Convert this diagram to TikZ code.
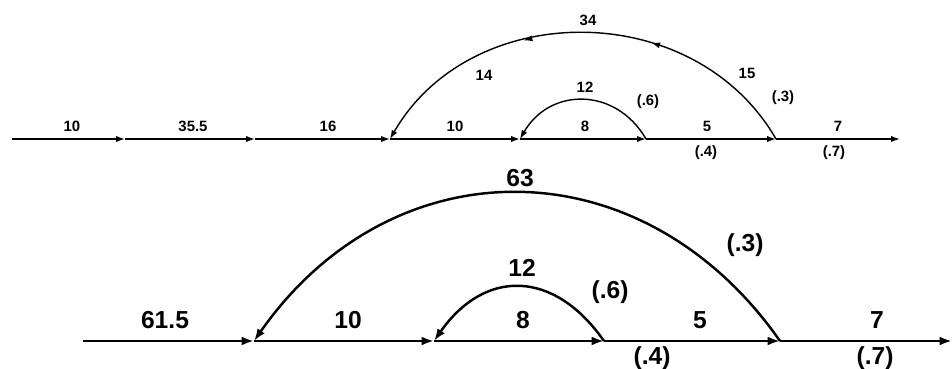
\documentclass[tikz,border=0pt]{standalone}
\usepackage{fontspec}
\setsansfont{Liberation Sans}
\usetikzlibrary{arrows.meta,decorations.markings}
\begin{document}
\begin{tikzpicture}[x=0.02cm,y=0.02cm,
    flow/.style={line width=0.8pt,-{Latex[length=5pt,width=3.5pt]}},
    bigflow/.style={line width=1.4pt,-{Latex[length=7pt,width=5pt]}},
    lab/.style={inner sep=0pt,font=\sffamily\bfseries\fontsize{8.5}{10}\selectfont},
    biglab/.style={inner sep=0pt,font=\sffamily\bfseries\fontsize{14}{16}\selectfont},
    midarrows/.style={postaction={decorate},decoration={markings,
        mark=at position 0.35 with {\arrow{Latex[length=5pt,width=3.5pt]}},
        mark=at position 0.63 with {\arrow{Latex[length=5pt,width=3.5pt]}}}}]
    \useasboundingbox (0,0) rectangle (952,368);

    % upper line
    \coordinate (t0) at (12,229);
    \coordinate (t1) at (125,229);
    \coordinate (t2) at (255,229);
    \coordinate (t3) at (390,229);
    \coordinate (t4) at (520,229);
    \coordinate (t5) at (646,229);
    \coordinate (t6) at (776,229);
    \coordinate (t7) at (900,229);

    \draw[flow] (t0) -- (t1);
    \draw[flow] (t1) -- (t2);
    \draw[flow] (t2) -- (t3);
    \draw[flow] (t3) -- (t4);
    \draw[flow] (t4) -- (t5);
    \draw[flow] (t5) -- (t6);
    \draw[flow] (t6) -- (t7);

    \draw[flow,midarrows] (t6) .. controls +(120:163) and +(60:163) .. (t3);
    \draw[flow] (t5) .. controls +(120:60) and +(60:60) .. (t4);

    \node[lab] (u1) at (72,242) {10};
    \node[lab] (u2) at (193,242) {35.5};
    \node[lab] (u3) at (328,242) {16};
    \node[lab] (u4) at (455,242) {10};
    \node[lab] (u5) at (585,242) {8};
    \node[lab] (u6) at (707,242) {5};
    \node[lab] (u7) at (838,242) {7};
    \node[lab] (u8) at (706,215) {(.4)};
    \node[lab] (u9) at (834,215) {(.7)};
    \node[lab] (u10) at (585,281) {12};
    \node[lab] (u11) at (648,266) {(.6)};
    \node[lab] (u12) at (484,293) {14};
    \node[lab] (u13) at (588,348) {34};
    \node[lab] (u14) at (747,295) {15};
    \node[lab] (u15) at (783,270) {(.3)};

    % lower line
    \coordinate (b0) at (83,27);
    \coordinate (b1) at (254,27);
    \coordinate (b2) at (434,27);
    \coordinate (b3) at (604,27);
    \coordinate (b4) at (780,27);
    \coordinate (b5) at (952,27);

    \draw[bigflow] (b0) -- (b1);
    \draw[bigflow] (b1) -- (b2);
    \draw[bigflow] (b2) -- (b3);
    \draw[bigflow] (b3) -- (b4);
    \draw[bigflow] (b4) -- (b5);

    \draw[bigflow] (b4) .. controls +(125:241) and +(55:241) .. (b1);
    \draw[bigflow] (b3) .. controls +(125:88) and +(55:88) .. (b2);

    \node[biglab] (v1) at (165,48) {61.5};
    \node[biglab] (v2) at (348,48) {10};
    \node[biglab] (v3) at (523,48) {8};
    \node[biglab] (v4) at (700,48) {5};
    \node[biglab] (v5) at (877,48) {7};
    \node[biglab] (v6) at (652,10) {(.4)};
    \node[biglab] (v7) at (875,10) {(.7)};
    \node[biglab] (v8) at (520,190) {63};
    \node[biglab] (v9) at (522,100) {12};
    \node[biglab] (v10) at (610,76) {(.6)};
    \node[biglab] (v11) at (745,123) {(.3)};
\end{tikzpicture}
\end{document}
